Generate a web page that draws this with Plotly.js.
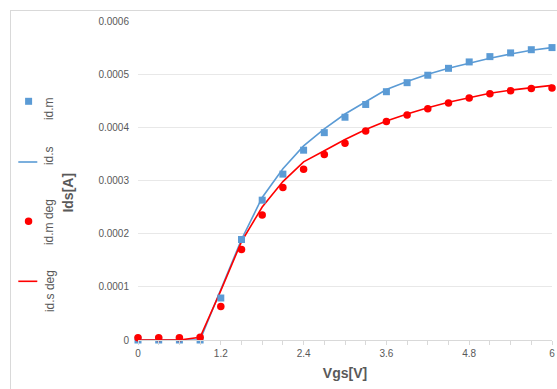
<!DOCTYPE html>
<html>
<head>
<meta charset="utf-8">
<script src="https://cdn.plot.ly/plotly-3.0.1.min.js"></script>
<style>
  html, body { margin: 0; padding: 0; background: #fff; }
  #wrap { position: relative; width: 557px; height: 389px; }
  #chart { width: 557px; height: 389px; }
  #frame { position: absolute; left: 10px; top: 10px; width: 560px; height: 400px;
           border-left: 1px solid #d9d9d9; border-top: 1px solid #d9d9d9; pointer-events: none; }
</style>
</head>
<body>
<div id="wrap"><div id="chart"></div><div id="frame"></div></div>
<script>
// ---- data ----
const vgs = [0, 0.3, 0.6, 0.9, 1.2, 1.5, 1.8, 2.1, 2.4, 2.7, 3.0, 3.3, 3.6, 3.9, 4.2, 4.5, 4.8, 5.1, 5.4, 5.7, 6.0];
const idM = [0, 0, 0, 0, 0.000079, 0.000189, 0.000263, 0.000312, 0.000357, 0.000390, 0.000419, 0.000443, 0.000467, 0.000484, 0.000498, 0.000511, 0.000523, 0.000533, 0.000540, 0.000546, 0.000550];
const idS = [0, 0, 0, 0, 0.000095, 0.000189, 0.000268, 0.000322, 0.000365, 0.000397, 0.000425, 0.000448, 0.000471, 0.000486, 0.000500, 0.000511, 0.000521, 0.000530, 0.000538, 0.000545, 0.000550];
const idMdeg = [0.000004, 0.000004, 0.000004, 0.000005, 0.000063, 0.000170, 0.000235, 0.000287, 0.000321, 0.000349, 0.000370, 0.000393, 0.000411, 0.000423, 0.000435, 0.000446, 0.000455, 0.000463, 0.000469, 0.000473, 0.000474];
const idSdeg = [0, 0, 0, 0.000005, 0.000093, 0.000185, 0.000250, 0.000298, 0.000335, 0.000356, 0.000377, 0.000396, 0.000412, 0.000425, 0.000437, 0.000447, 0.000456, 0.000464, 0.000470, 0.000474, 0.000479];
const seriesNames = ["id.m", "id.s", "id.m deg", "id.s deg"];
const xTickVals = [0, 1.2, 2.4, 3.6, 4.8, 6];
const xTickText = ["0", "1.2", "2.4", "3.6", "4.8", "6"];
const yTickVals = [0, 0.0001, 0.0002, 0.0003, 0.0004, 0.0005, 0.0006];
const yTickText = ["0", "0.0001", "0.0002", "0.0003", "0.0004", "0.0005", "0.0006"];
const xTitle = "Vgs[V]";
const yTitle = "Ids[A]";

// ---- style ----
const blue = "#5B9BD5";
const red = "#FF0000";
const gray = "#595959";
const W = 557, H = 389;
const L = 137.7, R = 5.3, T = 20.7, B = 49.3;
const pw = W - L - R, ph = H - T - B;
const px = v => (v - L) / pw;
const py = v => (H - B - v) / ph;
const font = "Liberation Sans, Arial, sans-serif";

const traces = [
  { x: vgs, y: idS, name: seriesNames[1], mode: "lines", line: { color: blue, width: 1.6 }, cliponaxis: false },
  { x: vgs, y: idSdeg, name: seriesNames[3], mode: "lines", line: { color: red, width: 1.6 }, cliponaxis: false },
  { x: vgs, y: idM, name: seriesNames[0], mode: "markers", marker: { symbol: "square", size: 7, color: blue }, cliponaxis: false },
  { x: vgs, y: idMdeg, name: seriesNames[2], mode: "markers", marker: { symbol: "circle", size: 7.5, color: red }, cliponaxis: false }
];

// legend (rotated text, drawn manually)
const legY = [101, 161.7, 221, 281];
const legTextY = [108, 155, 222, 291];
const shapes = [
  { type: "rect", xref: "paper", yref: "paper", x0: px(24.8), x1: px(31.8), y0: py(97.5), y1: py(104.5), fillcolor: blue, line: { width: 0 } },
  { type: "line", xref: "paper", yref: "paper", x0: px(18), x1: px(37), y0: py(legY[1]), y1: py(legY[1]), line: { color: blue, width: 1.6 } },
  { type: "circle", xref: "paper", yref: "paper", x0: px(24.5), x1: px(32), y0: py(217.3), y1: py(224.8), fillcolor: red, line: { width: 0 } },
  { type: "line", xref: "paper", yref: "paper", x0: px(18), x1: px(37), y0: py(legY[3]), y1: py(legY[3]), line: { color: red, width: 1.6 } }
];
const annotations = seriesNames.map((n, i) => ({
  text: n, xref: "paper", yref: "paper", x: px(49.5), y: py(legTextY[i]),
  xanchor: "center", yanchor: "middle", showarrow: false, textangle: -90,
  font: { family: font, size: 12, color: gray }
}));
annotations.push({
  text: "<b>" + yTitle + "</b>", xref: "paper", yref: "paper", x: px(68), y: py(192),
  xanchor: "center", yanchor: "middle", showarrow: false, textangle: -90,
  font: { family: font, size: 14, color: gray }
});

const layout = {
  width: W, height: H,
  margin: { l: L, r: R, t: T, b: B, pad: 0 },
  paper_bgcolor: "#fff", plot_bgcolor: "#fff",
  showlegend: false,
  xaxis: {
    range: [0, 6], tickvals: xTickVals, ticktext: xTickText,
    showgrid: false, zeroline: false, showline: true, linecolor: "#d9d9d9", linewidth: 1,
    ticks: "outside", ticklen: 4, tickcolor: "#d9d9d9",
    minor: { dtick: 0.3, tick0: 0, ticks: "outside", ticklen: 4, tickcolor: "#d9d9d9", showgrid: false },
    tickfont: { family: font, size: 10, color: gray },
    title: { text: "<b>" + xTitle + "</b>", font: { family: font, size: 14, color: gray }, standoff: 10 }
  },
  yaxis: {
    range: [0, 0.0006], tickvals: yTickVals, ticktext: yTickText,
    showgrid: true, gridcolor: "#e8e8e8", gridwidth: 1, zeroline: false, showline: false,
    ticks: "", ticklabelstandoff: 8,
    tickfont: { family: font, size: 10, color: gray }
  },
  shapes: shapes,
  annotations: annotations
};

Plotly.newPlot("chart", traces, layout, { displayModeBar: false, staticPlot: true });
</script>
</body>
</html>
